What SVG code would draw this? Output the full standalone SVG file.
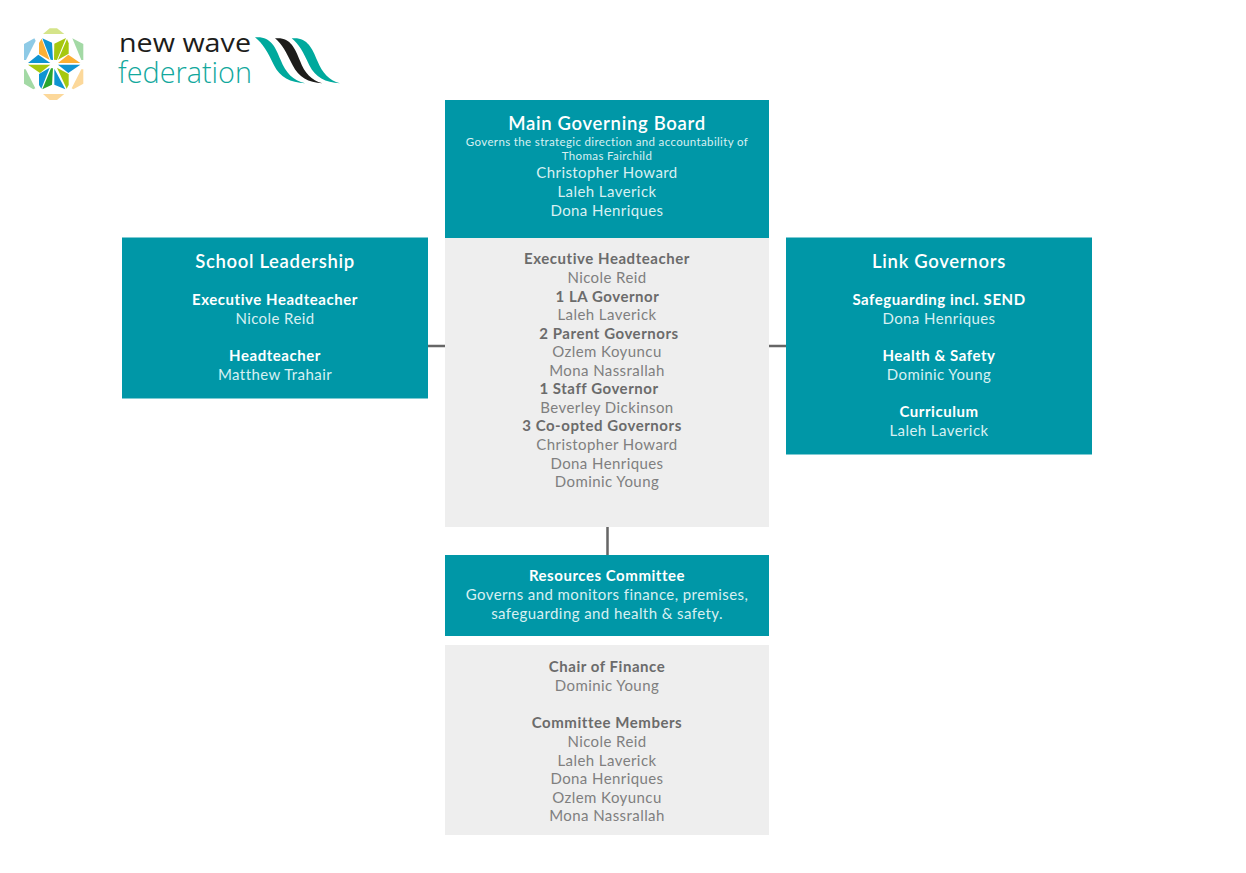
<svg xmlns="http://www.w3.org/2000/svg" width="1246" height="873" viewBox="0 0 1246 873">
<style>
text{font-family:"Lato","Noto Sans",sans-serif;text-anchor:middle;font-size:15px;letter-spacing:.42px}
.t{fill:#0097a7}.g{fill:#eeeeee}
.w{fill:#d8f0f2}.wb{fill:#fff;font-weight:700;letter-spacing:.54px}
.k{fill:#7f7f7f}.kb{fill:#6b6b6b;font-weight:700;letter-spacing:.54px}
.h{font-size:18.500px;font-weight:600;letter-spacing:.68px}
.s{font-size:11.500px;letter-spacing:.36px}
.c{stroke:#666;stroke-width:2.500;fill:none}
.lt{font-family:"Open Sans",sans-serif;text-anchor:start;letter-spacing:0}
</style>
<rect width="1246" height="873" fill="#fff"/>
<g id="logo">
<g transform="translate(15,20) scale(.3333)">
<path fill="#d5e48a" d="M84 42L104 25H126L148 42Z"/>
<path fill="#8ecae6" d="M27 72L58 55L62 62L33 120H27Z"/>
<path fill="#a3d9a5" d="M172 55L205 72V120H199Z"/>
<path fill="#a3d9a5" d="M27 148H32L61 205L55 208L27 191Z"/>
<path fill="#fcd89a" d="M205 148V191L175 208L170 205L199 148Z"/>
<path fill="#fcd89a" d="M84 222H148L126 240H104Z"/>
<path fill="#fbb034" d="M72 69L80 56L104 120L72 102Z"/>
<path fill="#0f94d2" d="M82 55L111 68L114 120L107 119Z"/>
<path fill="#a6c80f" d="M118 71L153 54L126 120L117 119Z"/>
<path fill="#a6c80f" d="M156 57L161 70V101L129 119Z"/>
<path fill="#0f94d2" d="M39 129L70 104L106 129Z"/>
<path fill="#a6c80f" d="M39 134H106L75 159Z"/>
<path fill="#fbb034" d="M129 129L160 104L196 129Z"/>
<path fill="#0f94d2" d="M129 134H196L160 159Z"/>
<path fill="#0f94d2" d="M72 162L104 143L79 206L72 195Z"/>
<path fill="#2aa52e" d="M82 208L108 145H114L111 194Z"/>
<path fill="#a6c80f" d="M126 143L161 162V195L155 206Z"/>
<path fill="#0f94d2" d="M118 146L151 208L118 194Z"/>
</g>
<text x="119" y="52" class="lt" style="font-size:26px" fill="#1d1d1b" textLength="132" lengthAdjust="spacingAndGlyphs">new wave</text>
<text x="118" y="83" class="lt" style="font-size:29px;font-weight:300" fill="#12a89d" textLength="134" lengthAdjust="spacingAndGlyphs">federation</text>
<g transform="translate(240,30) scale(.3333)">
<path fill="#00a99d" d="M45 22C92 18 106 50 122 90C138 130 158 150 196 160C150 158 120 142 102 106C83 66 68 40 45 22Z"/>
<path fill="#1d1d1b" d="M105 25C150 20 164 52 180 92C194 130 214 150 247 160C205 158 176 142 158 106C138 66 126 42 105 25Z"/>
<path fill="#00a99d" d="M155 25C200 20 216 52 232 92C248 130 266 150 300 160C256 158 226 142 208 106C190 66 176 42 155 25Z"/>
</g>
</g>
<g id="connectors">
<path class="c" d="M428 346H446M769 346H787M607.500 527V555"/>
</g>
<g id="main-board">
<rect class="t" x="445" y="100" width="324" height="138"/>
<path d="M445.500 238V271M768.500 238V271" stroke="#7cc7d0" stroke-width="1"/>
<text x="607" y="130" class="wb h">Main Governing Board</text>
<text x="607" y="146" class="w s">Governs the strategic direction and accountability of</text>
<text x="607" y="160" class="w s">Thomas Fairchild</text>
<text x="607" y="178" class="w">Christopher Howard</text>
<text x="607" y="197" class="w">Laleh Laverick</text>
<text x="607" y="215.500" class="w">Dona Henriques</text>
</g>
<g id="board-members">
<rect class="g" x="445" y="238" width="324" height="289"/>
<text x="607" y="264" class="kb">Executive Headteacher</text>
<text x="607" y="283" class="k">Nicole Reid</text>
<text x="607.500" y="301.500" class="kb">1 LA Governor</text>
<text x="607" y="320" class="k">Laleh Laverick</text>
<text x="609" y="338.500" class="kb">2 Parent Governors</text>
<text x="607" y="357" class="k">Ozlem Koyuncu</text>
<text x="607" y="375.500" class="k">Mona Nassrallah</text>
<text x="599" y="394" class="kb">1 Staff Governor</text>
<text x="607" y="413" class="k">Beverley Dickinson</text>
<text x="602" y="431" class="kb">3 Co-opted Governors</text>
<text x="607" y="450" class="k">Christopher Howard</text>
<text x="607" y="468.500" class="k">Dona Henriques</text>
<text x="607" y="487" class="k">Dominic Young</text>
</g>
<g id="school-leadership">
<rect class="t" x="122" y="237.500" width="306" height="161"/>
<text x="275" y="267.500" class="wb h">School Leadership</text>
<text x="275" y="305" class="wb">Executive Headteacher</text>
<text x="275" y="324" class="w">Nicole Reid</text>
<text x="275" y="361" class="wb">Headteacher</text>
<text x="275" y="380" class="w">Matthew Trahair</text>
</g>
<g id="link-governors">
<rect class="t" x="786" y="237.500" width="306" height="217"/>
<text x="939" y="267.500" class="wb h">Link Governors</text>
<text x="939" y="305" class="wb">Safeguarding incl. SEND</text>
<text x="939" y="324" class="w">Dona Henriques</text>
<text x="939" y="361" class="wb">Health &amp; Safety</text>
<text x="939" y="380" class="w">Dominic Young</text>
<text x="939" y="417" class="wb">Curriculum</text>
<text x="939" y="435.500" class="w">Laleh Laverick</text>
</g>
<g id="resources-committee">
<rect class="t" x="445" y="555" width="324" height="81"/>
<text x="607" y="581" class="wb">Resources Committee</text>
<text x="607" y="600" class="w">Governs and monitors finance, premises,</text>
<text x="607" y="618.500" class="w">safeguarding and health &amp; safety.</text>
</g>
<g id="committee-members">
<rect class="g" x="445" y="645" width="324" height="190"/>
<text x="607" y="672" class="kb">Chair of Finance</text>
<text x="607" y="691" class="k">Dominic Young</text>
<text x="607" y="728" class="kb">Committee Members</text>
<text x="607" y="747" class="k">Nicole Reid</text>
<text x="607" y="765.500" class="k">Laleh Laverick</text>
<text x="607" y="784" class="k">Dona Henriques</text>
<text x="607" y="802.500" class="k">Ozlem Koyuncu</text>
<text x="607" y="821" class="k">Mona Nassrallah</text>
</g>
</svg>
